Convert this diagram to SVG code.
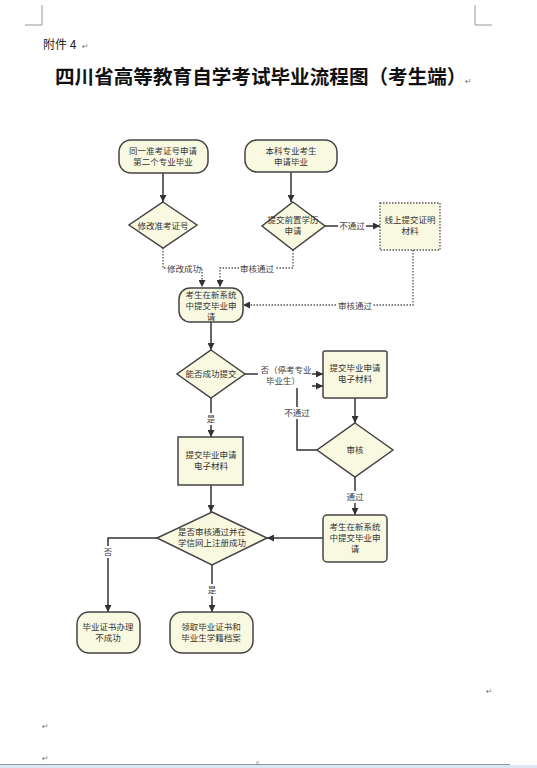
<svg xmlns="http://www.w3.org/2000/svg" width="537" height="768" viewBox="0 0 537 768">
<defs>
<marker id="ah" viewBox="0 0 10 10" refX="10" refY="5" markerWidth="7" markerHeight="7" markerUnits="userSpaceOnUse" orient="auto">
<path d="M0,0 L10,5 L0,10 z" fill="#333"/>
</marker>
</defs>
<style>
.n{fill:#f9f9e2;stroke:#444;stroke-width:1.5}
.nd{fill:#f9f9e2;stroke:#555;stroke-width:1.3;stroke-dasharray:1.5,1.5}
.t{font-family:"Noto Sans CJK SC","Noto Sans",sans-serif;font-size:8.5px;fill:#333;text-anchor:middle}
.l{font-family:"Noto Sans CJK SC","Noto Sans",sans-serif;font-size:8.5px;fill:#444;text-anchor:middle}
.s{fill:none;stroke:#333;stroke-width:1.5}
.d{fill:none;stroke:#555;stroke-width:1.3;stroke-dasharray:1.5,1.5}
.bg{fill:#fff}
.r{font-family:"DejaVu Sans",sans-serif;font-size:8px;fill:#777}
</style>
<rect width="537" height="768" fill="#fff"/>
<g id="page" stroke="#999" stroke-width="1" fill="none">
<path d="M42,5 V25 H25"/>
<path d="M475,5 V25 H492"/>
</g>
<text x="43" y="49" font-family="'Noto Sans CJK SC',sans-serif" font-size="12" fill="#222">附件 4</text>
<text x="82" y="49" class="r">↵</text>
<text x="55" y="84" font-family="'Noto Sans CJK SC',sans-serif" font-size="19.6" font-weight="bold" fill="#111">四川省高等教育自学考试毕业流程图（考生端）</text>
<text x="465" y="84" class="r">↵</text>

<g id="connectors">
<path class="s" d="M163,173 V202" marker-end="url(#ah)"/>
<path class="s" d="M291,172 V202" marker-end="url(#ah)"/>
<path class="s" d="M325,226 H380" marker-end="url(#ah)"/>
<path class="d" d="M163,248 V268 H202 V287" marker-end="url(#ah)"/>
<path class="d" d="M293,250 V268 H220 V287" marker-end="url(#ah)"/>
<path class="d" d="M413,250 V305 H243" marker-end="url(#ah)"/>
<path class="s" d="M211,322 V350" marker-end="url(#ah)"/>
<path class="s" d="M245,374 H323" marker-end="url(#ah)"/>
<path class="s" d="M317,450 H297 V386 H323" marker-end="url(#ah)"/>
<path class="s" d="M355,398 V423" marker-end="url(#ah)"/>
<path class="s" d="M355,477 V515" marker-end="url(#ah)"/>
<path class="s" d="M323,538 H267" marker-end="url(#ah)"/>
<path class="s" d="M211,398 V437" marker-end="url(#ah)"/>
<path class="s" d="M211,485 V512" marker-end="url(#ah)"/>
<path class="s" d="M157,538 H108 V612" marker-end="url(#ah)"/>
<path class="s" d="M212,565 V612" marker-end="url(#ah)"/>
<rect class="bg" x="338" y="220" width="28" height="12"/>
<text class="l" x="352" y="229">不通过</text>
<rect class="bg" x="166" y="262" width="34" height="12"/>
<text class="l" x="184" y="272">修改成功</text>
<rect class="bg" x="239" y="262" width="36" height="12"/>
<text class="l" x="257" y="272">审核通过</text>
<rect class="bg" x="337" y="299" width="36" height="12"/>
<text class="l" x="355" y="309">审核通过</text>
<rect class="bg" x="258" y="364" width="54" height="24"/>
<text class="l" x="286" y="373">否（停考专业</text>
<text class="l" x="283" y="384">毕业生）</text>
<rect class="bg" x="284" y="407" width="27" height="12"/>
<text class="l" x="297" y="416">不通过</text>
<rect class="bg" x="345" y="491" width="20" height="12"/>
<text class="l" x="355" y="500">通过</text>
<rect class="bg" x="205" y="413" width="12" height="12"/>
<text class="l" x="211" y="422">是</text>
<rect class="bg" x="102" y="546" width="12" height="12"/>
<text class="l" x="108" y="555">否</text>
<rect class="bg" x="206" y="584" width="12" height="12"/>
<text class="l" x="212" y="593">是</text>
</g>

<g id="n1"><rect class="n" x="119" y="140" width="89" height="33" rx="12"/>
<text class="t" x="163" y="154">同一准考证号申请</text><text class="t" x="163" y="165">第二个专业毕业</text></g>
<g id="n2"><rect class="n" x="245" y="140" width="92" height="32" rx="12"/>
<text class="t" x="291" y="154">本科专业考生</text><text class="t" x="291" y="165">申请毕业</text></g>
<g id="d1"><polygon class="n" points="163,202 197,225 163,248 129,225"/>
<text class="t" x="163" y="229">修改准考证号</text></g>
<g id="d2"><polygon class="n" points="293,202 325,226 293,250 262,226"/>
<text class="t" x="293" y="223">提交前置学历</text><text class="t" x="293" y="234">申请</text></g>
<g id="n3"><rect class="nd" x="380" y="203" width="60" height="47"/>
<text class="t" x="410" y="223">线上提交证明</text><text class="t" x="410" y="234">材料</text></g>
<g id="n4"><rect class="n" x="179" y="288" width="64" height="34" rx="11"/>
<text class="t" x="211" y="298">考生在新系统</text><text class="t" x="211" y="309">中提交毕业申</text><text class="t" x="211" y="320">请</text></g>
<g id="d3"><polygon class="n" points="211,350 245,374 211,398 177,374"/>
<text class="t" x="211" y="377">能否成功提交</text></g>
<g id="n5"><rect class="n" x="323" y="351" width="64" height="47" rx="2"/>
<text class="t" x="355" y="371">提交毕业申请</text><text class="t" x="355" y="382">电子材料</text></g>
<g id="d4"><polygon class="n" points="355,423 393,450 355,477 317,450"/>
<text class="t" x="355" y="453">审核</text></g>
<g id="n6"><rect class="n" x="178" y="437" width="65" height="48"/>
<text class="t" x="211" y="458">提交毕业申请</text><text class="t" x="211" y="469">电子材料</text></g>
<g id="n7"><rect class="n" x="323" y="515" width="64" height="47" rx="4"/>
<text class="t" x="355" y="530">考生在新系统</text><text class="t" x="355" y="541">中提交毕业申</text><text class="t" x="355" y="552">请</text></g>
<g id="d5"><polygon class="n" points="212,512 267,538 212,565 157,538"/>
<text class="t" x="212" y="535">是否审核通过并在</text><text class="t" x="212" y="546">学信网上注册成功</text></g>
<g id="n8"><rect class="n" x="77" y="612" width="63" height="41" rx="12"/>
<text class="t" x="108" y="630">毕业证书办理</text><text class="t" x="108" y="641">不成功</text></g>
<g id="n9"><rect class="n" x="170" y="612" width="83" height="41" rx="12"/>
<text class="t" x="211" y="630">领取毕业证书和</text><text class="t" x="211" y="641">毕业生学籍档案</text></g>

<g id="footer">
<text x="486" y="694" class="r">↵</text>
<text x="42" y="729" class="r">↵</text>
<text x="42" y="761" class="r">↵</text>
<line x1="0" y1="764.5" x2="510" y2="764.5" stroke="#8a9bb0" stroke-width="1"/>
<rect x="0" y="765" width="537" height="3" fill="#dde8f3"/>
<text x="256" y="765" font-family="'DejaVu Sans',sans-serif" font-size="5" fill="#888">8</text>
</g>
</svg>
